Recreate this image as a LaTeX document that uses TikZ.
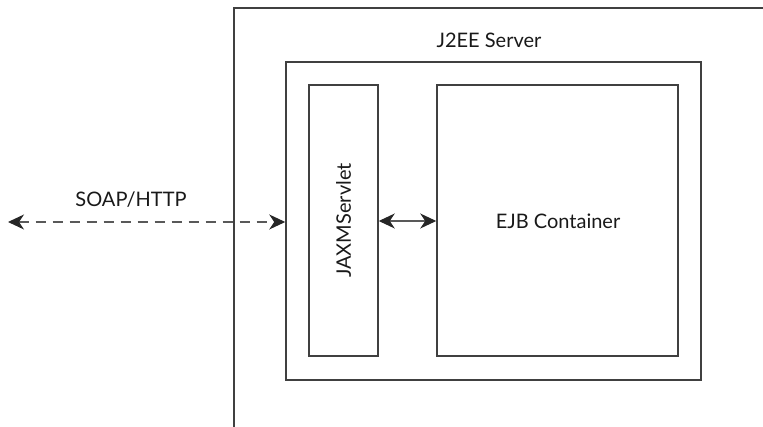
\documentclass[tikz,border=0pt]{standalone}
\usepackage{fontspec}
\setmainfont{Lato}
\usetikzlibrary{arrows.meta}
\begin{document}
\begin{tikzpicture}[x=1pt,y=-1pt,
  box/.style={draw=black!75,line width=1.5pt,inner sep=0pt},
  lbl/.style={font=\fontsize{20}{24}\selectfont,text=black!90},
  arr/.style={draw=black!65,line width=1.3pt,{Stealth[length=16pt,width=15pt,inset=5pt,color=black!85]}-{Stealth[length=16pt,width=15pt,inset=5pt,color=black!85]}}
]
\useasboundingbox (0,0) rectangle (763,427);
% outer server (open on right and bottom)
\draw[black!75,line width=1.5pt] (234,427) -- (234,8) -- (763,8);
\node[lbl] (srv) at (489,40) {J2EE Server};
\node[box,minimum width=415pt,minimum height=318pt] (cont) at (493.5,221) {};
\node[box,minimum width=69pt,minimum height=271pt] (jaxm) at (343.5,220.5) {};
\node[lbl,rotate=90] (jaxmt) at (jaxm.center) {JAXMServlet};
\node[box,minimum width=241pt,minimum height=271pt] (ejb) at (557.5,220.5) {};
\node[lbl] (ejbt) at (558,221) {EJB Container};
\coordinate (left) at (8,222);
\node[lbl] (soap) at (131,200) {SOAP/HTTP};
\draw[arr,dash pattern=on 10pt off 7pt] (left) -- (cont.west |- left);
\draw[arr] (jaxm.east |- 0,221) -- (ejb.west |- 0,221);
\end{tikzpicture}
\end{document}
